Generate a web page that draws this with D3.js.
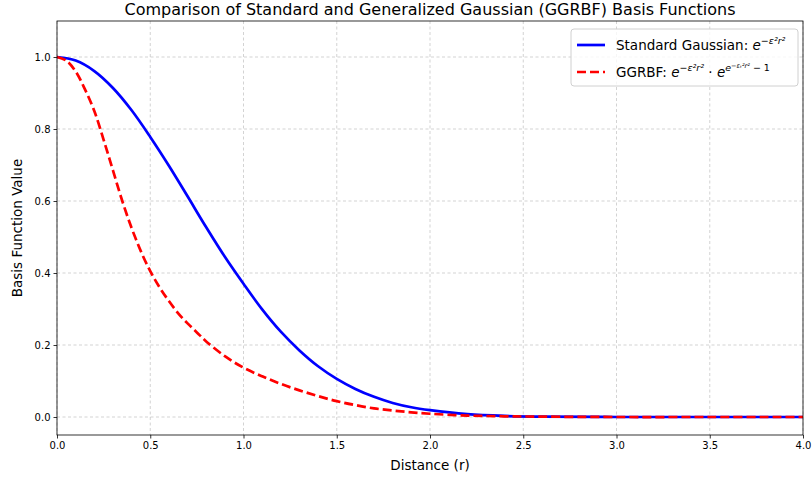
<!DOCTYPE html>
<html>
<head>
<meta charset="utf-8">
<script src="https://cdn.jsdelivr.net/npm/d3@7"></script>
<style>
body { margin: 0; background: #fff; }
text { font-family: "DejaVu Sans", sans-serif; fill: #000; }
</style>
</head>
<body>
<script>
// values
var rStd = [0, 0.1, 0.2, 0.3, 0.4, 0.5, 0.6, 0.7, 0.8, 0.9, 1.0, 1.1, 1.2, 1.3, 1.4, 1.5, 1.6, 1.7, 1.8, 1.9, 2.0, 2.2, 2.4, 2.6, 3.0, 3.5, 4.0];
var stdVals = [1.0, 0.99, 0.961, 0.914, 0.852, 0.778, 0.698, 0.613, 0.527, 0.445, 0.37, 0.299, 0.237, 0.185, 0.141, 0.106, 0.078, 0.056, 0.039, 0.027, 0.019, 0.008, 0.003, 0.001, 0, 0, 0];

var rGg = [0, 0.05, 0.1, 0.15, 0.2, 0.25, 0.3, 0.35, 0.4, 0.45, 0.5, 0.55, 0.6, 0.65, 0.7, 0.75, 0.8, 0.9, 1.0, 1.1, 1.2, 1.3, 1.4, 1.5, 1.6, 1.7, 1.8, 1.9, 2.0, 2.2, 2.4, 2.6, 3.0, 3.5, 4.0];
var ggVals = [1.0, 0.99, 0.96, 0.91, 0.85, 0.77, 0.685, 0.6, 0.525, 0.46, 0.405, 0.36, 0.322, 0.288, 0.26, 0.235, 0.21, 0.169, 0.137, 0.113, 0.092, 0.074, 0.058, 0.044, 0.033, 0.024, 0.018, 0.013, 0.009, 0.004, 0.002, 0.001, 0, 0, 0];

var xTicks = [0, 0.5, 1.0, 1.5, 2.0, 2.5, 3.0, 3.5, 4.0];
var yTicks = [0, 0.2, 0.4, 0.6, 0.8, 1.0];

var W = 812, H = 478;
var m = {l: 57, r: 9, t: 21, b: 43};

var svg = d3.select('body').append('svg')
	.attr('width', W)
	.attr('height', H);

var x = d3.scaleLinear().domain([0, 4]).range([m.l, W - m.r]);
var y = d3.scaleLinear().domain([-0.05, 1.1]).range([H - m.b, m.t]);

// grid
svg.append('g').selectAll('line').data(xTicks).enter().append('line')
	.attr('x1', function(d) { return x(d); }).attr('x2', function(d) { return x(d); })
	.attr('y1', m.t).attr('y2', H - m.b)
	.attr('stroke', '#b0b0b0').attr('stroke-opacity', 0.7)
	.attr('stroke-width', 0.8).attr('stroke-dasharray', '3,2.5');
svg.append('g').selectAll('line').data(yTicks).enter().append('line')
	.attr('y1', function(d) { return y(d); }).attr('y2', function(d) { return y(d); })
	.attr('x1', m.l).attr('x2', W - m.r)
	.attr('stroke', '#b0b0b0').attr('stroke-opacity', 0.7)
	.attr('stroke-width', 0.8).attr('stroke-dasharray', '3,2.5');

// axes
var xAxis = svg.append('g')
	.attr('transform', 'translate(0,' + (H - m.b) + ')')
	.call(d3.axisBottom(x).tickValues(xTicks).tickFormat(d3.format('.1f')).tickSize(3.5).tickPadding(3));
var yAxis = svg.append('g')
	.attr('transform', 'translate(' + m.l + ',0)')
	.call(d3.axisLeft(y).tickValues(yTicks).tickFormat(d3.format('.1f')).tickSize(3.5).tickPadding(3));
[xAxis, yAxis].forEach(function(a) {
	a.select('.domain').remove();
	a.selectAll('text').style('font-size', '10px').attr('fill', '#000');
	a.selectAll('line').attr('stroke', '#000').attr('stroke-width', 0.8);
});

// lines
var line = d3.line().curve(d3.curveCatmullRom.alpha(0.5))
	.x(function(d) { return x(d[0]); })
	.y(function(d) { return y(d[1]); });

svg.append('path')
	.datum(d3.zip(rStd, stdVals))
	.attr('d', line)
	.attr('fill', 'none').attr('stroke', '#0000ff').attr('stroke-width', 2.7);

svg.append('path')
	.datum(d3.zip(rGg, ggVals))
	.attr('d', line)
	.attr('fill', 'none').attr('stroke', '#ff0000').attr('stroke-width', 2.7)
	.attr('stroke-dasharray', '9,4');

// frame
svg.append('rect')
	.attr('x', m.l).attr('y', m.t)
	.attr('width', W - m.r - m.l).attr('height', H - m.b - m.t)
	.attr('fill', 'none').attr('stroke', '#000').attr('stroke-width', 0.8);

// title, labels
svg.append('text')
	.attr('x', (m.l + W - m.r) / 2).attr('y', 15)
	.attr('text-anchor', 'middle').style('font-size', '16px')
	.text('Comparison of Standard and Generalized Gaussian (GGRBF) Basis Functions');
svg.append('text')
	.attr('x', (m.l + W - m.r) / 2).attr('y', 470)
	.attr('text-anchor', 'middle').style('font-size', '13.5px')
	.text('Distance (r)');
svg.append('text')
	.attr('transform', 'translate(22,' + ((m.t + H - m.b) / 2) + ')rotate(-90)')
	.attr('text-anchor', 'middle').style('font-size', '13.5px')
	.text('Basis Function Value');

// legend
var lg = svg.append('g');
lg.append('rect')
	.attr('x', 571).attr('y', 29).attr('width', 227).attr('height', 57).attr('rx', 3)
	.attr('fill', '#fff').attr('fill-opacity', 0.8).attr('stroke', '#d0d0d0');
lg.append('line').attr('x1', 577).attr('x2', 605).attr('y1', 45).attr('y2', 45)
	.attr('stroke', '#0000ff').attr('stroke-width', 2.7);
lg.append('line').attr('x1', 577).attr('x2', 605).attr('y1', 72).attr('y2', 72)
	.attr('stroke', '#ff0000').attr('stroke-width', 2.7).attr('stroke-dasharray', '9,4');

var t1 = lg.append('text').attr('x', 616).attr('y', 50).style('font-size', '13.5px');
t1.append('tspan').text('Standard Gaussian: ');
t1.append('tspan').style('font-style', 'italic').text('e');
t1.append('tspan').attr('dy', -6).style('font-size', '9.5px').style('font-style', 'italic').text('−ε²r²');

var t2 = lg.append('text').attr('x', 616).attr('y', 77).style('font-size', '13.5px');
t2.append('tspan').text('GGRBF: ');
t2.append('tspan').style('font-style', 'italic').text('e');
t2.append('tspan').attr('dy', -6).style('font-size', '9.5px').style('font-style', 'italic').text('−ε²r²');
t2.append('tspan').attr('dy', 6).text(' · ');
t2.append('tspan').style('font-style', 'italic').text('e');
t2.append('tspan').attr('dy', -6).style('font-size', '9.5px').style('font-style', 'italic').text('e');
t2.append('tspan').attr('dy', -3).style('font-size', '6.5px').style('font-style', 'italic').text('−εₜ²r²');
t2.append('tspan').attr('dy', 3).style('font-size', '9.5px').text(' − 1');
</script>
</body>
</html>
